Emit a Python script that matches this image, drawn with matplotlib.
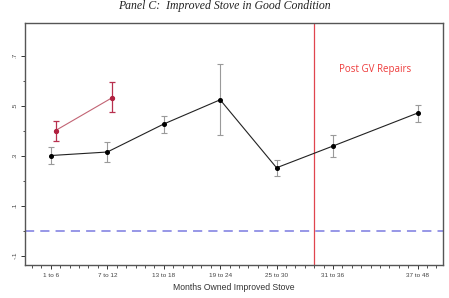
import numpy as np
import matplotlib
matplotlib.use('Agg')
from matplotlib import pyplot as plt

# data
xlabels   = ['1 to 6', '7 to 12', '13 to 18', '19 to 24', '25 to 30', '31 to 36', '37 to 48']
xpos      = [3.5, 9.5, 15.5, 21.5, 27.5, 33.5, 42.5]
black_y   = [0.300, 0.314, 0.426, 0.523, 0.251, 0.338, 0.470]
black_lo  = [0.266, 0.274, 0.391, 0.381, 0.218, 0.295, 0.434]
black_hi  = [0.334, 0.353, 0.459, 0.666, 0.283, 0.382, 0.503]
red_x     = [4.0, 10.0]
red_y     = [0.400, 0.531]
red_lo    = [0.360, 0.473]
red_hi    = [0.440, 0.593]
repair_x  = 31.5
ylabels   = ['-.1', '.1', '.3', '.5', '.7']
yticks    = [-0.1, 0.1, 0.3, 0.5, 0.7]

fig = plt.figure(figsize=(4.49, 2.98), dpi=100)
ax  = fig.add_axes([0.0557, 0.1107, 0.931, 0.812])

# zero reference line
ax.axhline(0, color='#7b7be0', lw=1.1, dashes=(6, 4))
# repairs line
ax.axvline(repair_x, color='#e0454f', lw=0.9)

# black series
yerr_b = [np.array(black_y) - np.array(black_lo), np.array(black_hi) - np.array(black_y)]
ax.errorbar(xpos, black_y, yerr=yerr_b, fmt='none', ecolor='#9a9a9a', elinewidth=0.8, capsize=2.5, capthick=0.8)
ax.plot(xpos, black_y, color='#222222', lw=0.8, marker='o', ms=2.6, mfc='black', mec='black')

# red series
yerr_r = [np.array(red_y) - np.array(red_lo), np.array(red_hi) - np.array(red_y)]
ax.errorbar(red_x, red_y, yerr=yerr_r, fmt='none', ecolor='#b8304f', elinewidth=0.9, capsize=2.5, capthick=0.9)
ax.plot(red_x, red_y, color='#c26474', lw=0.8, marker='o', ms=2.8, mfc='#b0203f', mec='#b0203f')

ax.text(38.0, 0.645, 'Post GV Repairs', color='#ee3b3b', fontsize=7, family='Open Sans', ha='center', va='center')

ax.set_xlim(0.75, 45.2)
ax.set_ylim(-0.138, 0.83)
ax.set_xticks(xpos)
ax.set_xticklabels(xlabels, fontsize=4.6, family='Liberation Sans', color='#444444')
ax.set_xticks(np.arange(1.5, 45.5, 1.0), minor=True)
ax.set_yticks(yticks)
ax.set_yticklabels(ylabels, fontsize=4.6, rotation=90, va='center', family='Liberation Sans', color='#444444')
ax.set_yticks([0.0, 0.2, 0.4, 0.6], minor=True)
ax.tick_params(which='major', length=3, width=0.7, color='#333333', pad=2.5)
ax.tick_params(which='minor', length=1.8, width=0.6, color='#333333')
ax.set_xlabel('Months Owned Improved Stove', fontsize=6.2, labelpad=3.5, family='Liberation Sans', color='#333333')

for s in ax.spines.values():
    s.set_color('#555555')
    s.set_linewidth(1.0)

fig.text(0.5, 0.999, 'Panel C:  Improved Stove in Good Condition', ha='center', va='top',
         fontsize=8.5, style='italic', family='Liberation Serif', color='#222222')

plt.savefig('out.png', dpi=100)
